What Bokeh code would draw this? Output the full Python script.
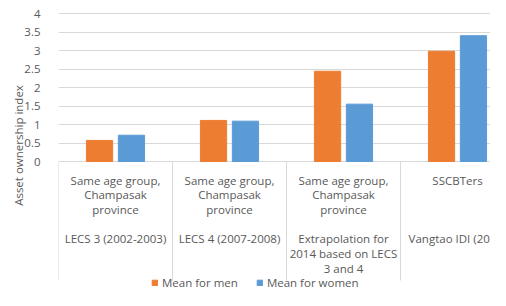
from bokeh.plotting import figure
from bokeh.models import ColumnDataSource, Range1d, FixedTicker, NumeralTickFormatter, Legend, LegendItem
from bokeh.core.properties import value
from bokeh.embed import file_html
from bokeh.resources import INLINE

categories = [
    "Same age group,\nChampasak\nprovince\n\nLECS 3 (2002-2003)",
    "Same age group,\nChampasak\nprovince\n\nLECS 4 (2007-2008)",
    "Same age group,\nChampasak\nprovince\n\nExtrapolation for\n2014 based on LECS\n3 and 4",
    "SSCBTers\n\n\n\nVangtao IDI (2014)",
]
men = [0.57, 1.11, 2.44, 2.98]
women = [0.71, 1.09, 1.55, 3.40]
y_ticks = [0, 0.5, 1, 1.5, 2, 2.5, 3, 3.5, 4]

FONT = "Open Sans"
GREY = "#595959"
LINE = "#D9D9D9"
ORANGE = "#ED7D31"
BLUE = "#5B9BD5"

# layout constants (pixels)
W, H = 490, 290
LEFT = 58
FRAME_H = H
PX_PER_UNIT = 37.0
PX_PER_CATEGORY = 114.0
HEADROOM_PX = 13       # space above the top gridline
SEP_PX = 119           # length of the category separators under the zero line
Y_TOP = max(y_ticks) + HEADROOM_PX / PX_PER_UNIT
Y_MIN = Y_TOP - FRAME_H / PX_PER_UNIT  # room below zero for labels and legend
SEP_END = -SEP_PX / PX_PER_UNIT
X_END = (W - LEFT) / PX_PER_CATEGORY
OFFSET, BAR_W = 0.14, 0.23

centers = [i + 0.5 for i in range(len(categories))]
bounds = [float(i) for i in range(len(categories) + 1)]
src = ColumnDataSource(dict(x=centers,
                            xm=[c - OFFSET for c in centers],
                            xw=[c + OFFSET for c in centers],
                            men=men, women=women, label=categories))
sep = ColumnDataSource(dict(x=bounds))

p = figure(width=W, height=H, output_backend="svg", toolbar_location=None,
           x_range=Range1d(0, X_END), y_range=Range1d(Y_MIN, Y_TOP))
p.min_border_left = LEFT
p.min_border_top = 0
p.min_border_bottom = 0
p.min_border_right = 0
p.outline_line_color = None

r_men = p.vbar(x="xm", top="men", bottom=0, width=BAR_W, source=src, color=ORANGE)
r_women = p.vbar(x="xw", top="women", bottom=0, width=BAR_W, source=src, color=BLUE)

# category separators below the zero line
p.segment(x0="x", y0=0, x1="x", y1=SEP_END, source=sep, line_color=LINE, line_width=1)

# category labels hanging under the zero line
p.text(x="x", y=0, text="label", source=src, y_offset=11,
       text_align="center", text_baseline="top",
       text_font=value(FONT), text_font_size=value("11.5px"),
       text_color=GREY, text_line_height=0.98)

# y axis
p.yaxis.bounds = (0, max(y_ticks))
p.yaxis.ticker = FixedTicker(ticks=y_ticks)
p.yaxis.formatter = NumeralTickFormatter(format="0.[0]")
p.yaxis.axis_line_color = None
p.yaxis.major_tick_line_color = None
p.yaxis.minor_tick_line_color = None
p.yaxis.major_label_text_font = FONT
p.yaxis.major_label_text_font_size = "11.5px"
p.yaxis.major_label_text_color = GREY
p.yaxis.major_label_standoff = 12
p.yaxis.axis_label = "Asset ownership index"
p.yaxis.axis_label_text_font = FONT
p.yaxis.axis_label_text_font_size = "11.5px"
p.yaxis.axis_label_text_font_style = "normal"
p.yaxis.axis_label_text_color = GREY
p.yaxis.axis_label_standoff = -5

p.ygrid.ticker = FixedTicker(ticks=y_ticks)
p.ygrid.grid_line_color = LINE
p.xgrid.grid_line_color = None
p.xaxis.visible = False

legend = Legend(items=[LegendItem(label="Mean for men", renderers=[r_men]),
                       LegendItem(label="Mean for women", renderers=[r_women])],
                orientation="horizontal", location=(93, 0))
legend.label_text_font = FONT
legend.label_text_font_size = "11.5px"
legend.label_text_color = GREY
legend.glyph_width = 7
legend.glyph_height = 7
legend.spacing = 18
legend.label_standoff = 4
legend.padding = 0
legend.margin = 0
legend.border_line_color = None
legend.background_fill_alpha = 0
p.add_layout(legend)

open("out.html", "w").write(file_html(p, INLINE))
